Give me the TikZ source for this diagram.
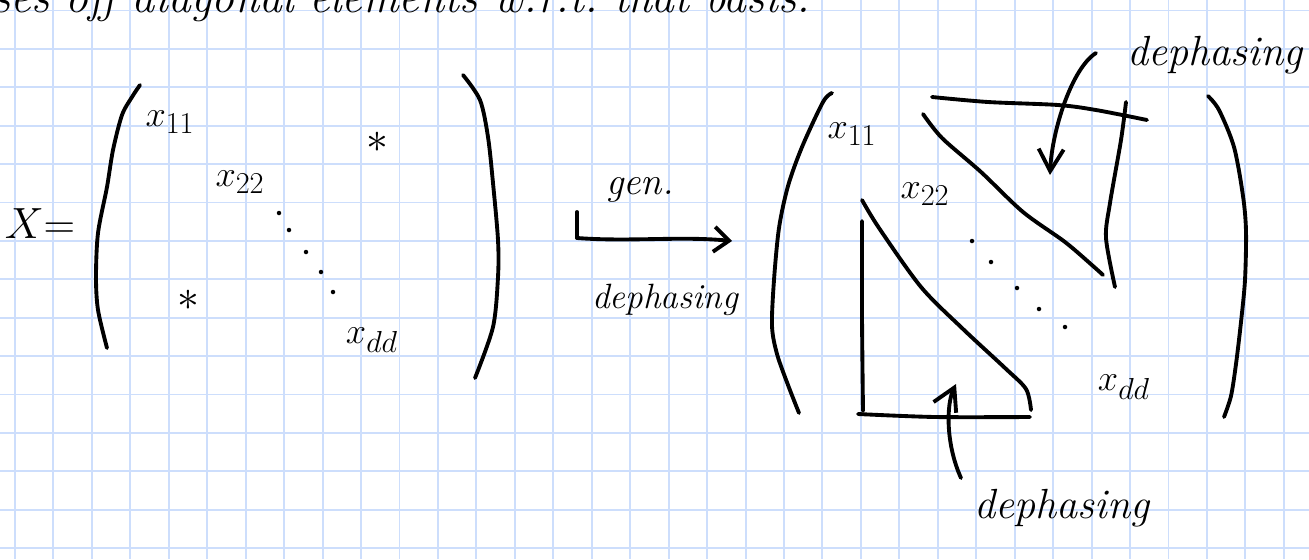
\documentclass[tikz,border=0pt]{standalone}
\usepackage{amsmath}
\usepackage{xcolor}
\usepackage{tikz}
\usetikzlibrary{arrows.meta,positioning}
\DeclareMathSizes{22}{22}{17}{13}
\definecolor{gridblue}{RGB}{205,222,252}
\definecolor{inkblack}{RGB}{0,0,0}
\tikzset{
  ink/.style={draw=inkblack, line width=2.2pt, line cap=round, line join=round},
  paperline/.style={draw=gridblue, line width=1.1pt},
  script/.style={inner sep=0pt, font=\fontsize{22}{26}\selectfont},
  bigscript/.style={inner sep=0pt, font=\fontsize{30}{34}\selectfont},
  hand/.style={inner sep=0pt, font=\itshape\fontsize{22}{26}\selectfont},
  arrow/.style={ink, -{Straight Barb[length=4.4mm, width=5mm]}}
}

\begin{document}
\begin{tikzpicture}[x=0.02cm, y=-0.02cm]
  \path[use as bounding box] (0,0) rectangle (1309,559);
  \clip (0,0) rectangle (1309,559);
  \fill[white] (0,0) rectangle (1309,559);
  \foreach \k in {0,...,33} \draw[paperline] ({15+38.45*\k},0) -- ({15+38.45*\k},559);
  \foreach \k in {0,...,14} \draw[paperline] (0,{10.5+38.4*\k}) -- (1309,{10.5+38.4*\k});

  \node[hand, anchor=base west, font=\itshape\fontsize{26}{30}\selectfont] (note) at (-8,12)
    {ses off diagonal elements w.r.t.\ that basis.};

  % left matrix
  \node[bigscript, font=\fontsize{26}{30}\selectfont] (X) at (40,224) {$X{=}$};
  \draw[ink] plot[smooth] coordinates {(140,85) (132,97) (122,115) (113,150) (107,187) (98,233) (96,277) (98,310) (107,348)};
  \draw[ink] plot[smooth] coordinates {(463,75) (480,100) (488,137) (493,183) (498,240) (498,277) (493,327) (475,378)};
  \node[script] (l11) at (170,122) {$x_{11}$};
  \node[script] (l22) at (240,182) {$x_{22}$};
  \node[script] (ldd) at (372,340) {$x_{dd}$};
  \node[bigscript] (lup) at (377,142) {$*$};
  \node[bigscript] (llow) at (188,300) {$*$};
  \foreach \x/\y in {279/213, 289/230, 306/252, 321/272, 333/292}
    \fill[inkblack] (\x,\y) circle (0.45mm);

  % map
  \coordinate (g0) at (577,238);
  \coordinate (g1) at (732,241);
  \coordinate (gtick) at (577,212);
  \draw[ink] (gtick) -- (g0);
  \draw[ink, -{Straight Barb[length=3mm, width=5mm]}] (g0) .. controls (630,242) and (680,236) .. (g1);
  \node[hand] (gen) at (640,190) {gen.};
  \node[hand, font=\itshape\fontsize{20}{24}\selectfont] (deph) at (665,300) {dephasing};

  % right matrix
  \draw[ink] plot[smooth] coordinates {(832,93) (823,102) (802,147) (788,186) (779,228) (774,280) (772,326) (777,354) (788,385) (799,413)};
  \draw[ink] plot[smooth] coordinates {(1208,96) (1219,110) (1234,147) (1243,196) (1246,231) (1245,280) (1241,322) (1236,364) (1231,396) (1224,417)};
  \node[script] (r11) at (852,134) {$x_{11}$};
  \node[script] (r22) at (925,194) {$x_{22}$};
  \node[script] (rdd) at (1124,387) {$x_{dd}$};
  \foreach \x/\y in {972/241, 991/262, 1017/288, 1039/309, 1065/327}
    \fill[inkblack] (\x,\y) circle (0.45mm);

  \draw[ink] plot[smooth] coordinates {(932,97) (988,102) (1058,105) (1096,110) (1147,120)};
  \draw[ink] plot[smooth] coordinates {(923,114) (942,138) (981,172) (1023,212) (1065,242) (1093,266) (1103,275)};
  \draw[ink] plot[smooth] coordinates {(1126,102) (1121,140) (1110,203) (1106,238) (1115,287)};

  \draw[ink] plot[smooth] coordinates {(862,221) (862,315) (863,411)};
  \draw[ink] plot[smooth] coordinates {(858,414) (935,417) (1030,417)};
  \draw[ink] plot[smooth] coordinates {(862,200) (879,228) (921,287) (963,329) (1005,368) (1026,389) (1031,410)};

  \node[hand, font=\itshape\fontsize{24}{28}\selectfont] (dtop) at (1215,55) {dephasing};
  \node[hand, font=\itshape\fontsize{24}{28}\selectfont] (dbot) at (1062,508) {dephasing};
  \coordinate (t0) at (1096,53);
  \coordinate (t1) at (1050,175);
  \coordinate (b0) at (961,478);
  \coordinate (b1) at (956,384);
  \draw[arrow] (t0) .. controls (1072,68) and (1052,130) .. (t1);
  \draw[arrow] (b0) .. controls (946,445) and (946,405) .. (b1);
\end{tikzpicture}
\end{document}
